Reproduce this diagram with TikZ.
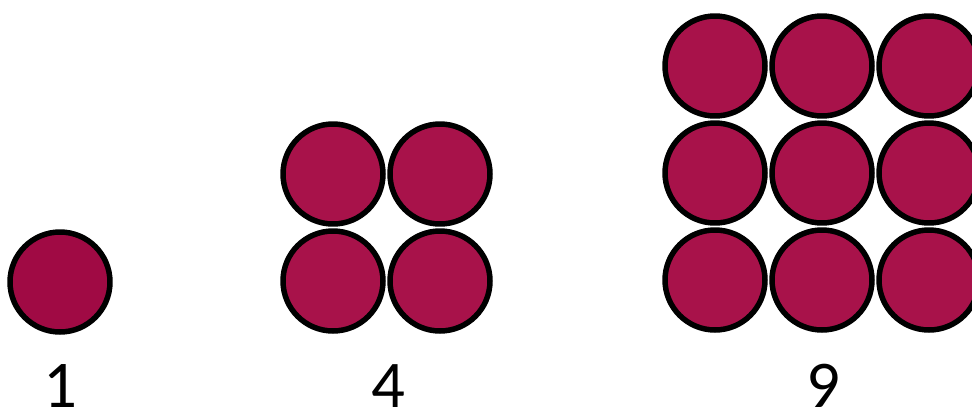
\documentclass[tikz,border=0pt]{standalone}
\usepackage{fontspec}
\setmainfont{Carlito}
\usetikzlibrary{positioning}
\definecolor{berry}{RGB}{168,18,74}
\definecolor{darkberry}{RGB}{160,10,68}
\tikzset{bead/.style={circle, draw=black, line width=0.11cm, fill=berry, minimum size=2cm, inner sep=0pt},
         count/.style={font=\fontsize{38}{46}\selectfont, inner sep=0pt}}

\begin{document}
\begin{tikzpicture}[x=0.02cm, y=-0.02cm]
    \useasboundingbox (0,0) rectangle (972,416);
    % one
    \node[bead, fill=darkberry] (one) at (60,282) {};
    % two by two
    \foreach \i in {0,1}
        \foreach \j in {0,1}
            \node[bead] (four\i\j) at (333+107*\i,174+107*\j) {};
    % three by three
    \foreach \i in {0,1,2}
        \foreach \j in {0,1,2}
            \node[bead] (nine\i\j) at (715+107*\i,66+107*\j) {};
    \node[count] (lone) at (60,386) {1};
    \node[count] (lfour) at (388,386) {4};
    \node[count] (lnine) at (823,386) {9};
\end{tikzpicture}
\end{document}
